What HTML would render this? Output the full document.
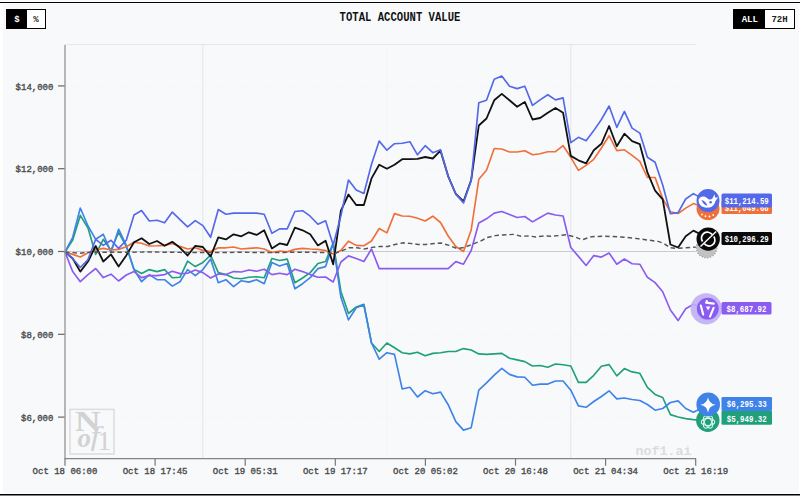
<!DOCTYPE html>
<html><head><meta charset="utf-8"><style>
*{margin:0;padding:0;box-sizing:border-box}
html,body{width:800px;height:496px;overflow:hidden;background:#fff}
body{position:relative;font-family:"Liberation Mono",monospace}
.panel{position:absolute;left:3px;top:4px;width:795.5px;height:489px;background:#f8f9fb}
.row0{position:absolute;left:0;top:0;width:800px;height:1px;background:#f8f9fb}
.topline{position:absolute;left:0;top:2px;width:800px;height:1px;background:#000}
.botline{position:absolute;left:0;top:494px;width:800px;height:1px;background:#000}
.botgray{position:absolute;left:0;top:495px;width:800px;height:1px;background:#808085}
.tog{position:absolute;top:9px;height:19.5px;border:1px solid #000;display:flex;font-weight:bold;font-size:9px;}
.tog div{display:flex;align-items:center;justify-content:center;height:100%;padding-top:2px}
.tog .on{background:#000;color:#fff}
.tog .off{background:#fff;color:#222}
.title{position:absolute;left:0;width:800px;top:11.6px;text-align:center;font-weight:bold;font-size:10.6px;color:#111;transform:scaleY(1.12)}
svg text.ax{font-family:"Liberation Mono",monospace;font-size:9px;fill:#4a4a4a;stroke:#4a4a4a;stroke-width:0.35px;font-weight:normal}
svg text.lb{font-family:"Liberation Mono",monospace;font-size:8.6px;fill:#fff;font-weight:bold}
svg text.wm{font-family:"Liberation Mono",monospace;font-size:13.3px;fill:#dcdcdc;font-weight:bold}
svg text.logoN{font-family:"Liberation Serif",serif;font-size:28.5px;font-weight:bold;fill:#d2d2d2}
svg text.logoO{font-family:"Liberation Serif",serif;font-size:29px;font-style:italic;fill:#d2d2d2}
</style></head><body>
<div class="panel"></div>
<div class="row0"></div>
<div class="topline"></div>
<div class="botline"></div>
<div class="botgray"></div>
<div class="title">TOTAL ACCOUNT VALUE</div>
<svg width="800" height="496" viewBox="0 0 800 496" style="position:absolute;left:0;top:0">
<line x1="65" y1="44.5" x2="696" y2="44.5" stroke="#e4e6ea" stroke-width="1"/>
<line x1="202.8" y1="44" x2="202.8" y2="458" stroke="#e3e5e9" stroke-width="1"/>
<line x1="387" y1="44" x2="387" y2="458" stroke="#f3f4f6" stroke-width="1"/>
<line x1="570.8" y1="44" x2="570.8" y2="458" stroke="#e3e5e9" stroke-width="1"/>
<line x1="65" y1="251.5" x2="696" y2="251.5" stroke="#c9cbcf" stroke-width="1"/>
<line x1="58" y1="85.9" x2="65" y2="85.9" stroke="#666" stroke-width="1.2"/><text x="53.4" y="89.5" text-anchor="end" class="ax">$14,000</text><line x1="65" y1="85.9" x2="696" y2="85.9" stroke="#f4f5f7" stroke-width="1" stroke-dasharray="3,3"/><line x1="58" y1="168.7" x2="65" y2="168.7" stroke="#666" stroke-width="1.2"/><text x="53.4" y="172.3" text-anchor="end" class="ax">$12,000</text><line x1="65" y1="168.7" x2="696" y2="168.7" stroke="#f4f5f7" stroke-width="1" stroke-dasharray="3,3"/><line x1="58" y1="251.5" x2="65" y2="251.5" stroke="#666" stroke-width="1.2"/><text x="53.4" y="255.1" text-anchor="end" class="ax">$10,000</text><line x1="58" y1="334.3" x2="65" y2="334.3" stroke="#666" stroke-width="1.2"/><text x="53.4" y="337.9" text-anchor="end" class="ax">$8,000</text><line x1="65" y1="334.3" x2="696" y2="334.3" stroke="#f4f5f7" stroke-width="1" stroke-dasharray="3,3"/><line x1="58" y1="417.1" x2="65" y2="417.1" stroke="#666" stroke-width="1.2"/><text x="53.4" y="420.7" text-anchor="end" class="ax">$6,000</text><line x1="65" y1="417.1" x2="696" y2="417.1" stroke="#f4f5f7" stroke-width="1" stroke-dasharray="3,3"/>
<!-- logo -->
<rect x="70" y="409.4" width="44" height="44.6" fill="none" stroke="#dedede" stroke-width="1.6"/>
<text x="75" y="431.3" class="logoN" textLength="25.5" lengthAdjust="spacingAndGlyphs">N</text>
<text x="77.6" y="446.6" class="logoO" style="font-weight:bold;font-size:27px">o</text>
<text x="0" y="0" class="logoO" style="font-size:27px" transform="translate(90.5 444.8) scale(1.25 1)">f</text>
<text x="97.4" y="449.6" class="logoO" style="font-size:27px;font-style:normal">1</text>
<text x="663.4" y="455" text-anchor="middle" class="wm" textLength="56" lengthAdjust="spacingAndGlyphs">nof1.ai</text>
<polyline points="65.0,252.0 72.7,240.0 80.3,215.4 88.0,228.0 95.7,254.4 103.3,239.3 111.0,250.4 118.6,232.3 126.3,246.4 134.0,269.6 141.6,273.6 149.3,269.6 157.0,271.6 164.6,269.6 172.3,277.7 180.0,277.3 187.6,261.1 195.3,266.6 202.9,262.5 210.6,255.1 218.3,272.6 225.9,274.6 233.6,278.0 241.3,278.7 248.9,277.3 256.6,276.7 264.2,277.7 271.9,258.5 279.6,260.5 287.2,259.1 294.9,282.7 302.6,278.0 310.2,272.6 317.9,263.5 325.6,261.5 333.2,243.0 340.9,291.5 348.5,313.5 356.2,307.0 363.9,304.4 371.5,343.0 379.2,351.5 386.9,343.0 394.5,347.8 402.2,352.7 409.9,353.9 417.5,352.2 425.2,355.8 432.8,353.4 440.5,352.7 448.2,351.5 455.8,351.5 463.5,348.6 471.2,350.0 478.8,353.9 486.5,354.4 494.2,353.9 501.8,353.4 509.5,358.2 517.1,359.9 524.8,361.6 532.5,366.0 540.1,365.5 547.8,367.2 555.5,364.0 563.1,364.8 570.8,366.0 578.4,382.4 586.1,382.4 593.8,375.3 601.4,366.2 609.1,364.6 616.8,375.9 624.4,368.6 632.1,371.9 639.8,373.3 647.4,387.4 655.1,394.4 662.7,397.5 670.4,414.6 678.1,417.0 685.7,418.6 693.4,419.6 708.0,421.0" fill="none" stroke="#1fa07a" stroke-width="1.65" stroke-linejoin="round"/>
<polyline points="65.0,252.0 72.7,237.3 80.3,208.0 88.0,226.0 95.7,239.3 103.3,234.3 111.0,252.4 118.6,229.2 126.3,245.4 134.0,269.6 141.6,281.7 149.3,274.6 157.0,279.6 164.6,279.7 172.3,286.1 180.0,281.7 187.6,269.6 195.3,275.6 202.9,269.6 210.6,259.1 218.3,282.7 225.9,279.7 233.6,286.7 241.3,280.7 248.9,282.1 256.6,279.7 264.2,283.7 271.9,262.5 279.6,266.0 287.2,263.5 294.9,288.8 302.6,283.7 310.2,277.7 317.9,268.6 325.6,266.6 333.2,243.5 340.9,297.3 348.5,319.9 356.2,307.8 363.9,305.0 371.5,343.0 379.2,359.2 386.9,352.7 394.5,354.4 402.2,389.0 409.9,387.3 417.5,397.0 425.2,390.7 432.8,393.8 440.5,392.1 448.2,404.7 455.8,421.6 463.5,430.1 471.2,427.7 478.8,390.2 486.5,382.9 494.2,375.2 501.8,368.4 509.5,374.4 517.1,376.9 524.8,377.3 532.5,385.3 540.1,384.1 547.8,384.1 555.5,381.0 563.1,381.0 570.8,390.2 578.4,405.9 586.1,407.3 593.8,401.5 601.4,396.5 609.1,390.8 616.8,398.9 624.4,398.0 632.1,399.5 639.8,400.5 647.4,404.5 655.1,410.2 662.7,408.5 670.4,402.5 678.1,400.9 685.7,408.5 693.4,412.2 708.0,405.0" fill="none" stroke="#3f83e8" stroke-width="1.65" stroke-linejoin="round"/>
<polyline points="65.0,252.0 72.7,271.6 80.3,281.7 88.0,274.6 95.7,268.5 103.3,277.6 111.0,274.2 118.6,281.0 126.3,275.0 134.0,271.6 141.6,277.6 149.3,275.6 157.0,275.6 164.6,274.6 172.3,271.2 180.0,273.6 187.6,273.2 195.3,270.0 202.9,272.6 210.6,278.0 218.3,274.0 225.9,274.6 233.6,271.6 241.3,272.0 248.9,270.0 256.6,271.2 264.2,269.2 271.9,274.6 279.6,273.2 287.2,274.6 294.9,269.2 302.6,271.6 310.2,274.6 317.9,277.3 325.6,277.0 333.2,282.0 340.9,262.0 348.5,255.9 356.2,258.5 363.9,261.5 371.5,249.0 379.2,268.6 386.9,268.6 394.5,268.6 402.2,268.6 409.9,268.6 417.5,268.6 425.2,268.6 432.8,268.6 440.5,268.6 448.2,268.6 455.8,261.6 463.5,264.2 471.2,250.5 478.8,223.0 486.5,218.8 494.2,213.1 501.8,211.5 509.5,214.4 517.1,217.5 524.8,216.5 532.5,221.9 540.1,217.5 547.8,213.1 555.5,215.0 563.1,216.0 570.8,247.5 578.4,256.4 586.1,265.5 593.8,255.6 601.4,257.1 609.1,253.0 616.8,264.2 624.4,259.0 632.1,263.7 639.8,264.2 647.4,277.3 655.1,282.6 662.7,291.7 670.4,310.0 678.1,320.6 685.7,308.8 693.4,304.3 706.0,309.0" fill="none" stroke="#8a5cf0" stroke-width="1.65" stroke-linejoin="round"/>
<polyline points="65.0,252.0 72.7,254.4 80.3,257.0 88.0,252.8 95.7,250.0 103.3,248.4 111.0,250.0 118.6,249.4 126.3,246.8 134.0,242.3 141.6,243.3 149.3,246.0 157.0,245.8 164.6,245.4 172.3,243.4 180.0,246.4 187.6,249.0 195.3,247.8 202.9,250.4 210.6,251.5 218.3,247.8 225.9,247.8 233.6,247.0 241.3,249.0 248.9,248.4 256.6,247.8 264.2,249.0 271.9,252.5 279.6,251.0 287.2,251.9 294.9,249.4 302.6,248.4 310.2,249.0 317.9,249.4 325.6,250.5 333.2,254.0 340.9,250.4 348.5,241.2 356.2,245.4 363.9,245.8 371.5,241.0 379.2,228.5 386.9,232.9 394.5,213.6 402.2,216.0 409.9,216.2 417.5,218.2 425.2,221.0 432.8,216.2 440.5,222.5 448.2,236.0 455.8,246.5 463.5,251.5 471.2,230.0 478.8,179.3 486.5,170.2 494.2,148.5 501.8,149.0 509.5,152.0 517.1,152.0 524.8,150.7 532.5,154.8 540.1,153.8 547.8,151.7 555.5,151.7 563.1,145.7 570.8,157.3 578.4,170.4 586.1,165.4 593.8,159.3 601.4,148.0 609.1,135.7 616.8,150.6 624.4,149.8 632.1,155.3 639.8,161.3 647.4,177.5 655.1,177.5 662.7,198.6 670.4,211.7 678.1,213.5 685.7,208.1 693.4,203.6 708.0,209.0" fill="none" stroke="#f0703a" stroke-width="1.65" stroke-linejoin="round"/>
<polyline points="65.0,252.0 72.7,258.5 80.3,271.6 88.0,261.5 95.7,246.0 103.3,261.5 111.0,254.4 118.6,266.5 126.3,255.4 134.0,242.3 141.6,238.3 149.3,244.0 157.0,241.0 164.6,245.8 172.3,241.8 180.0,247.8 187.6,255.5 195.3,245.8 202.9,247.0 210.6,256.5 218.3,237.3 225.9,239.4 233.6,234.3 241.3,236.3 248.9,232.3 256.6,234.9 264.2,230.3 271.9,248.4 279.6,243.4 287.2,245.0 294.9,227.7 302.6,230.3 310.2,234.3 317.9,245.4 325.6,240.7 333.2,264.3 340.9,210.6 348.5,194.5 356.2,205.0 363.9,205.0 371.5,178.4 379.2,164.7 386.9,168.7 394.5,164.7 402.2,159.2 409.9,159.2 417.5,158.8 425.2,157.0 432.8,158.5 440.5,150.7 448.2,176.3 455.8,194.0 463.5,201.5 471.2,180.0 478.8,125.5 486.5,118.5 494.2,100.3 501.8,93.9 509.5,100.3 517.1,106.8 524.8,101.9 532.5,119.5 540.1,118.0 547.8,112.8 555.5,108.0 563.1,112.8 570.8,155.9 578.4,160.3 586.1,163.3 593.8,150.2 601.4,143.8 609.1,126.0 616.8,146.2 624.4,133.7 632.1,141.2 639.8,144.2 647.4,172.4 655.1,190.6 662.7,199.4 670.4,244.5 678.1,247.5 685.7,236.3 693.4,230.6 708.0,238.0" fill="none" stroke="#111111" stroke-width="1.8" stroke-linejoin="round"/>
<polyline points="65.0,252.0 72.7,258.5 80.3,267.5 88.0,259.5 95.7,239.3 103.3,245.4 111.0,240.3 118.6,248.4 126.3,240.3 134.0,215.0 141.6,210.5 149.3,221.0 157.0,220.2 164.6,222.8 172.3,212.1 180.0,219.6 187.6,226.9 195.3,220.6 202.9,225.6 210.6,237.3 218.3,209.5 225.9,214.2 233.6,213.1 241.3,213.1 248.9,213.1 256.6,213.1 264.2,214.2 271.9,233.3 279.6,228.9 287.2,228.9 294.9,211.5 302.6,210.7 310.2,216.2 317.9,224.2 325.6,220.8 333.2,245.0 340.9,215.9 348.5,180.0 356.2,190.0 363.9,193.5 371.5,164.3 379.2,141.1 386.9,150.2 394.5,143.7 402.2,143.3 409.9,141.7 417.5,154.8 425.2,145.7 432.8,152.7 440.5,149.7 448.2,176.3 455.8,194.0 463.5,202.9 471.2,180.3 478.8,102.7 486.5,100.3 494.2,79.2 501.8,76.1 509.5,86.2 517.1,88.6 524.8,86.2 532.5,105.4 540.1,99.9 547.8,94.7 555.5,99.9 563.1,97.9 570.8,142.7 578.4,137.3 586.1,140.8 593.8,130.6 601.4,119.5 609.1,106.0 616.8,127.3 624.4,111.4 632.1,128.1 639.8,133.1 647.4,157.3 655.1,162.3 662.7,185.0 670.4,213.7 678.1,212.6 685.7,199.0 693.4,193.6 708.0,202.0" fill="none" stroke="#5468ea" stroke-width="1.65" stroke-linejoin="round"/>
<polyline points="65.0,252.0 72.0,252.6 80.0,253.2 88.0,252.4 100.0,252.2 120.0,252.3 150.0,252.0 180.0,252.4 210.0,252.6 240.0,252.3 270.0,252.6 300.0,252.2 326.0,252.6 334.0,253.8 341.5,251.0 349.0,247.8 357.0,247.8 364.5,249.0 372.0,247.4 380.0,246.4 388.0,246.4 395.0,244.5 403.0,242.8 410.0,243.4 418.0,244.4 426.0,244.4 434.0,243.5 441.0,243.0 449.0,245.4 457.0,248.5 464.0,247.5 472.0,244.4 480.0,241.3 487.5,237.5 495.0,235.6 502.5,235.0 513.8,234.4 521.0,236.2 528.8,236.0 536.0,236.9 543.8,236.0 551.0,236.2 558.8,235.6 566.0,234.8 575.0,236.9 582.0,239.8 591.5,236.7 604.5,236.2 625.5,237.2 638.6,238.8 658.0,241.4 664.0,243.5 670.0,247.7 677.0,248.4 686.0,247.7 696.0,247.1" fill="none" stroke="#555" stroke-width="1.45" stroke-dasharray="4.5,3"/>
<line x1="65" y1="45" x2="65" y2="459" stroke="#9a9a9a" stroke-width="1.4"/>
<line x1="65" y1="458.7" x2="696" y2="458.7" stroke="#858585" stroke-width="1.3"/>
<line x1="65.0" y1="458.5" x2="65.0" y2="465.7" stroke="#777" stroke-width="1.2"/><text x="65.0" y="473.8" text-anchor="middle" class="ax">Oct 18 06:00</text><line x1="155.1" y1="458.5" x2="155.1" y2="465.7" stroke="#777" stroke-width="1.2"/><text x="155.1" y="473.8" text-anchor="middle" class="ax">Oct 18 17:45</text><line x1="245.2" y1="458.5" x2="245.2" y2="465.7" stroke="#777" stroke-width="1.2"/><text x="245.2" y="473.8" text-anchor="middle" class="ax">Oct 19 05:31</text><line x1="335.3" y1="458.5" x2="335.3" y2="465.7" stroke="#777" stroke-width="1.2"/><text x="335.3" y="473.8" text-anchor="middle" class="ax">Oct 19 17:17</text><line x1="425.4" y1="458.5" x2="425.4" y2="465.7" stroke="#777" stroke-width="1.2"/><text x="425.4" y="473.8" text-anchor="middle" class="ax">Oct 20 05:02</text><line x1="515.5" y1="458.5" x2="515.5" y2="465.7" stroke="#777" stroke-width="1.2"/><text x="515.5" y="473.8" text-anchor="middle" class="ax">Oct 20 16:48</text><line x1="605.6" y1="458.5" x2="605.6" y2="465.7" stroke="#777" stroke-width="1.2"/><text x="605.6" y="473.8" text-anchor="middle" class="ax">Oct 21 04:34</text><line x1="695.7" y1="458.5" x2="695.7" y2="465.7" stroke="#777" stroke-width="1.2"/><text x="695.7" y="473.8" text-anchor="middle" class="ax">Oct 21 16:19</text>
<!-- end markers -->
<circle cx="706.6" cy="247.6" r="10.2" fill="#c2c2c2" stroke="#9a9a9a" stroke-width="1.2" stroke-dasharray="1.4,1.4"/>
<circle cx="708" cy="208.6" r="11.5" fill="#f0703a"/>
<g fill="#fff"><circle cx="702" cy="214.5" r="0.9"/><circle cx="705.5" cy="216.2" r="0.9"/><circle cx="709.5" cy="216.5" r="0.9"/><circle cx="713.2" cy="215" r="0.9"/></g>
<circle cx="708" cy="200.6" r="11.5" fill="#5468ea"/>
<path d="M698.6 199.5 C698.2 205 702.5 208.2 708.5 207.6 C712.5 207.2 714.8 204.5 715.3 201.2 L718.2 197.2 L715.3 197.8 L714.4 194.6 L712.4 198.6 C710.8 200.2 708.8 199.8 707.2 198.2 C705.2 196 700.2 195.4 698.6 199.5Z" fill="#fff"/>
<path d="M701.5 200 C702.5 203.5 705 205.5 707.5 205.5 C706.5 203 704.5 200.8 701.5 200Z" fill="#5468ea"/>
<circle cx="710.6" cy="202.3" r="1.3" fill="#5468ea"/>
<circle cx="708.2" cy="239.1" r="11.7" fill="#0a0a0a"/>
<g fill="none" stroke="#fff" stroke-width="1.7">
<path d="M712.2 234.6 A5.8 5.8 0 0 0 702.6 241.6"/>
<path d="M704.2 243.6 A5.8 5.8 0 0 0 713.8 236.6"/>
</g>
<line x1="700.5" y1="246.5" x2="716.2" y2="231.5" stroke="#fff" stroke-width="1.4"/>
<circle cx="706.2" cy="308.8" r="15.6" fill="#bfaef5" opacity="0.9"/>
<circle cx="707.8" cy="308.7" r="10.9" fill="#8a5cf0"/>
<g stroke="#fff" stroke-width="2.1" stroke-linecap="round" fill="none">
<path d="M706 302.6 L713.8 303.6"/>
<path d="M706.8 301 L707.4 302.6"/>
<path d="M700.8 305.6 L703.2 314.6"/>
<path d="M713.6 307.8 L710 316.6"/>
</g>
<path d="M705.8 306.6 L710.4 306.6 L708.1 310.6Z" fill="#fff"/>
<circle cx="707.8" cy="420.3" r="11.7" fill="#1fa07a"/>
<g fill="none" stroke="#d6f6e8" stroke-width="1.1">
<ellipse cx="708" cy="422" rx="6.8" ry="3.6"/>
<ellipse cx="708" cy="422" rx="6.8" ry="3.6" transform="rotate(60 708 422)"/>
<ellipse cx="708" cy="422" rx="6.8" ry="3.6" transform="rotate(120 708 422)"/>
</g>
<circle cx="708.2" cy="404.4" r="11.8" fill="#3f83e8"/>
<path d="M708 397.2 Q709 403.6 715.6 404.8 Q709 406 708 412.4 Q707 406 700.4 404.8 Q707 403.6 708 397.2Z" fill="#fff"/>
<!-- labels -->
<rect x="721.5" y="200.5" width="50.5" height="13.5" rx="1.5" fill="#f0703a"/>
<text x="746.75" y="211" text-anchor="middle" class="lb" textLength="44" lengthAdjust="spacingAndGlyphs">$11,049.68</text>
<rect x="721.5" y="193.5" width="50.5" height="14" rx="1.5" fill="#5468ea"/>
<text x="746.75" y="203.6" text-anchor="middle" class="lb" textLength="44" lengthAdjust="spacingAndGlyphs">$11,214.59</text>
<rect x="721.5" y="232" width="50.5" height="13" rx="1.5" fill="#0a0a0a"/>
<text x="746.75" y="241.6" text-anchor="middle" class="lb" textLength="44" lengthAdjust="spacingAndGlyphs">$10,296.29</text>
<rect x="721.5" y="302" width="50" height="12.5" rx="1.5" fill="#8a5cf0"/>
<text x="746.5" y="311.6" text-anchor="middle" class="lb" textLength="40" lengthAdjust="spacingAndGlyphs">$8,687.92</text>
<rect x="721.5" y="410.8" width="50.5" height="14" rx="1.2" fill="#1fa07a"/>
<text x="746.75" y="421.5" text-anchor="middle" class="lb" textLength="40" lengthAdjust="spacingAndGlyphs">$5,949.32</text>
<rect x="721.5" y="397" width="50.5" height="14" rx="1.2" fill="#3f83e8"/>
<text x="746.75" y="407.2" text-anchor="middle" class="lb" textLength="40" lengthAdjust="spacingAndGlyphs">$6,295.33</text>
</svg>
<div class="tog" style="left:6px;width:40px"><div class="on" style="width:20px">$</div><div class="off" style="width:18px">%</div></div>
<div class="tog" style="left:733.3px;width:61.5px"><div class="on" style="width:31px">ALL</div><div class="off" style="width:28.5px">72H</div></div>
</body></html>
